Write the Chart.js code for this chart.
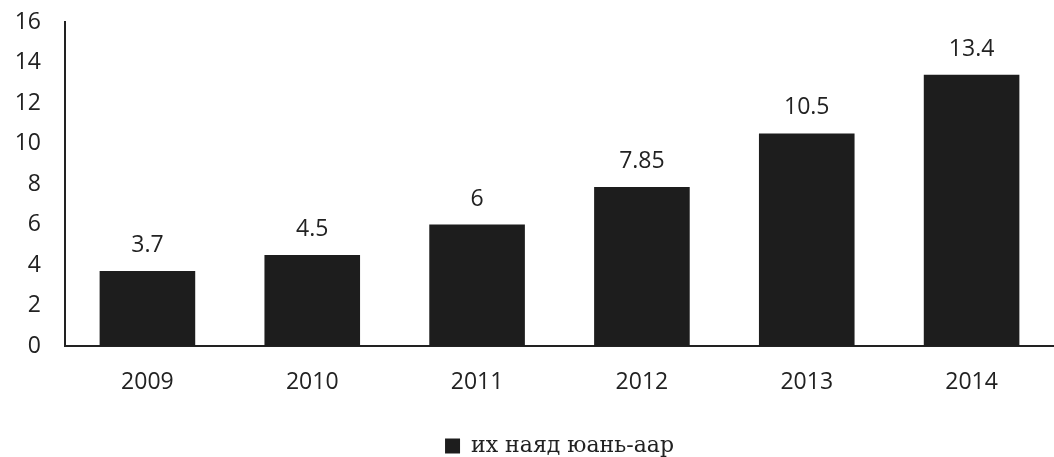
<!DOCTYPE html>
<html>
<head>
<meta charset="utf-8">
<script src="https://cdn.jsdelivr.net/npm/chart.js@4"></script>
<style>
  html, body { margin: 0; padding: 0; background: #fff; }
  #wrap { width: 1054px; height: 457px; }
</style>
</head>
<body>
<div id="wrap"><canvas id="myChart"></canvas></div>
<script>
const years = ['2009', '2010', '2011', '2012', '2013', '2014'];
const values = [3.7, 4.5, 6, 7.85, 10.5, 13.4];
const valueLabels = ['3.7', '4.5', '6', '7.85', '10.5', '13.4'];
const seriesName = 'их наяд юань-аар';

// labels above each bar
const barLabels = {
    id: 'barLabels',
    afterDatasetsDraw(chart) {
        const ctx = chart.ctx;
        const meta = chart.getDatasetMeta(0);
        ctx.save();
        ctx.fillStyle = '#222';
        ctx.font = '23px "Open Sans", sans-serif';
        ctx.textAlign = 'center';
        ctx.textBaseline = 'alphabetic';
        meta.data.forEach((bar, i) => {
            ctx.fillText(valueLabels[i], bar.x, bar.y - 19);
        });
        ctx.restore();
    }
};

const ctx = document.getElementById('myChart').getContext('2d');
new Chart(ctx, {
    type: 'bar',
    data: {
        labels: years,
        datasets: [{
            label: seriesName,
            data: values,
            backgroundColor: '#1d1d1d',
            borderWidth: 0,
            barPercentage: 0.58,
            categoryPercentage: 1
        }]
    },
    options: {
        responsive: true,
        maintainAspectRatio: false,
        animation: false,
        layout: { padding: { top: 0, right: -5, left: 0, bottom: -10 } },
        scales: {
            x: {
                grid: { display: false, drawTicks: false },
                border: { display: true, color: '#222', width: 2 },
                ticks: { color: '#222', padding: 23, font: { family: 'Open Sans', size: 23 } },
                afterFit: (scale) => { scale.height = 87; }
            },
            y: {
                min: 0,
                max: 16,
                grid: { display: false, drawTicks: false },
                border: { display: true, color: '#222', width: 2 },
                ticks: { stepSize: 2, color: '#222', padding: 24, font: { family: 'Open Sans', size: 23 } },
                afterFit: (scale) => { scale.width = 65; scale.paddingTop = 22; }
            }
        },
        plugins: {
            legend: {
                position: 'bottom',
                fullSize: false,
                labels: {
                    boxWidth: 15,
                    boxHeight: 15,
                    color: '#222',
                    padding: 2,
                    font: { family: 'DejaVu Serif', size: 22 }
                }
            },
            tooltip: { enabled: false }
        }
    },
    plugins: [barLabels]
});
</script>
</body>
</html>
